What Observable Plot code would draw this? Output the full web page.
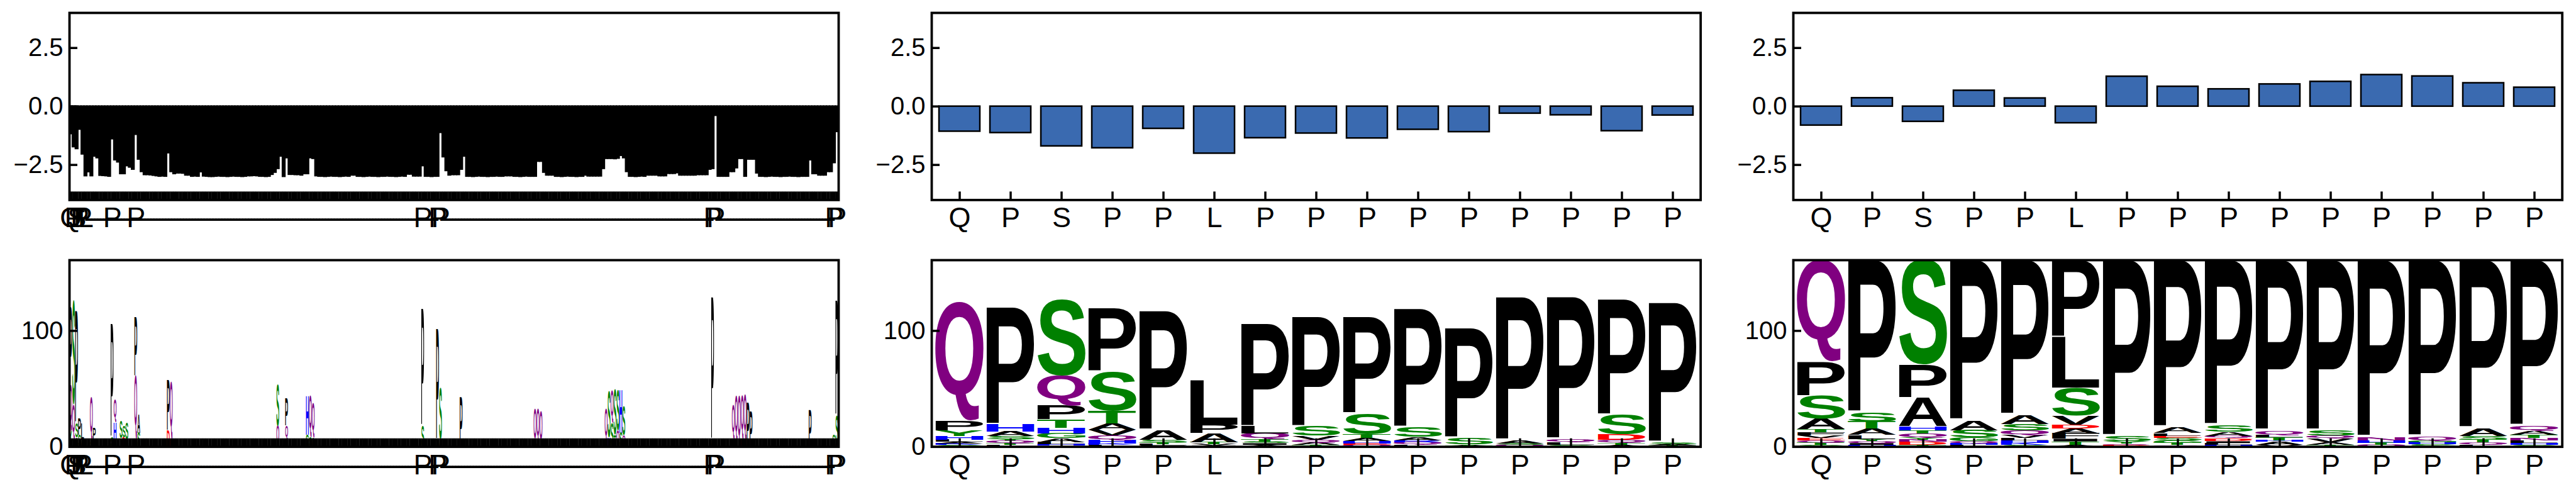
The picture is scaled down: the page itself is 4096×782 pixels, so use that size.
<!DOCTYPE html>
<html><head><meta charset="utf-8">
<script src="https://cdn.jsdelivr.net/npm/d3@7"></script>
<script src="https://cdn.jsdelivr.net/npm/@observablehq/plot@0.6"></script>
<style>
html,body{margin:0;padding:0;background:#fff;}
#root{position:relative;width:4096px;height:782px;overflow:hidden;background:#fff;}
</style></head><body><div id="root"></div><script>
// ---------------- data ----------------
const residues = ["Q","P","S","P","P","L","P","P","P","P","P","P","P","P","P"];
const N_ALL = 260;
const residuePos = [0,1,2,3,4,5,14,22,119,124,125,217,218,258,259];

const profileAll = [
-1.17,-1.73,-1.81,-0.98,-2.04,-2.97,-2.80,-2.97,-2.13,-2.20,-2.95,-2.96,-2.97,-2.99,-1.39,-2.29,-2.38,-2.88,-2.88,-2.54,
-2.60,-2.69,-1.20,-2.26,-2.79,-2.92,-2.92,-2.93,-2.95,-2.97,-2.99,-2.98,-2.99,-1.99,-2.79,-2.88,-2.85,-2.85,-2.86,-2.94,
-2.94,-2.99,-2.98,-2.99,-2.80,-2.98,-2.99,-3.00,-3.00,-2.99,-2.98,-2.99,-2.99,-3.00,-2.99,-2.98,-2.99,-2.99,-3.00,-2.99,
-2.97,-2.97,-2.96,-2.97,-2.99,-2.99,-3.00,-2.99,-2.91,-2.82,-2.66,-2.13,-3.00,-2.20,-2.91,-2.91,-2.92,-2.92,-2.94,-2.88,
-2.88,-2.20,-2.23,-2.97,-2.99,-2.99,-3.00,-2.99,-2.98,-2.99,-2.99,-3.00,-2.99,-2.98,-2.99,-2.94,-2.94,-2.99,-2.99,-3.00,
-2.99,-2.98,-2.99,-2.99,-3.00,-2.99,-2.99,-2.98,-2.99,-2.99,-3.00,-2.99,-2.98,-2.99,-2.90,-2.90,-2.98,-2.98,-2.98,-2.54,
-2.99,-2.99,-3.00,-2.99,-2.99,-1.12,-2.16,-2.75,-2.94,-2.92,-2.92,-2.92,-2.69,-2.13,-2.99,-2.99,-3.00,-2.99,-2.98,-2.99,
-2.99,-3.00,-2.99,-2.99,-2.98,-2.99,-2.99,-2.97,-2.97,-2.97,-2.99,-2.99,-3.00,-2.99,-2.98,-2.99,-2.99,-2.99,-2.35,-2.35,
-2.82,-2.94,-2.94,-2.94,-2.99,-2.99,-3.00,-2.99,-2.98,-2.99,-2.99,-3.00,-2.99,-2.99,-2.94,-2.98,-2.98,-2.98,-2.98,-2.98,
-2.66,-2.23,-2.23,-2.23,-2.24,-2.22,-2.10,-2.20,-2.79,-2.99,-2.99,-3.00,-2.99,-2.98,-2.99,-2.94,-2.94,-2.94,-2.94,-2.97,
-2.97,-2.97,-2.87,-2.87,-2.87,-2.84,-2.94,-2.94,-2.94,-2.94,-2.94,-2.94,-2.92,-2.92,-2.92,-2.92,-2.69,-2.66,-0.39,-2.99,
-2.99,-2.99,-2.99,-2.79,-2.79,-2.63,-2.23,-2.23,-2.99,-2.26,-2.26,-2.26,-2.85,-2.99,-2.99,-3.00,-2.99,-2.98,-2.99,-2.99,
-3.00,-2.99,-2.99,-2.98,-2.99,-2.99,-3.00,-2.99,-2.99,-2.99,-2.29,-2.88,-2.88,-2.94,-2.94,-2.94,-2.79,-2.79,-2.41,-1.08
];

const barsQuery = [-1.07,-1.13,-1.70,-1.78,-0.95,-2.01,-1.35,-1.15,-1.36,-0.99,-1.09,-0.30,-0.37,-1.05,-0.38];
const barsFull  = [-0.81,0.36,-0.65,0.68,0.35,-0.71,1.28,0.85,0.74,0.95,1.06,1.35,1.29,1.00,0.81];

// sequence-logo stacks, bottom -> top, "letter:height"
const logoAll = [
[0,"H:5,Y:8,Q:40,P:67"],[1,"T:6,Q:30,S:90"],[2,"A:8,S:12,P:97"],[3,"S:10,P:14"],[4,"A:6,L:14"],
[7,"S:4,Q:39"],[8,"T:6,P:10"],[14,"S:8,P:98"],[15,"S:6,H:15,Q:20"],[17,"T:7,S:15"],[18,"D:8,S:10"],
[19,"G:6,S:14"],[22,"S:6,Q:55,P:51"],[23,"S:12,A:16"],[33,"D:14,P:44"],[34,"E:6,Q:50"],[44,"A:3"],
[70,"Q:18,S:36"],[73,"S:6,Q:12,P:24"],[80,"S:10,H:34"],[81,"S:8,Q:36"],[82,"A:8,Q:30"],
[119,"S:18,P:101"],[124,"T:6,P:95"],[125,"A:6,S:44"],[132,"P:43"],[157,"Q:33"],[158,"L:3,Q:30"],
[159,"Q:31"],[181,"D:3,Q:30"],[182,"H:8,S:40"],[183,"S:20,Q:28"],[184,"T:10,S:39"],[185,"Q:14,S:35"],
[186,"S:12,H:37"],[187,"Q:10,S:25"],[217,"A:6,P:123"],[224,"S:6,Q:30"],[225,"D:4,Q:40"],[226,"Q:44"],
[227,"E:6,Q:38"],[228,"S:5,Q:40"],[229,"P:38"],[230,"P:30"],[250,"P:32"],[258,"S:10"],[259,"D:3,S:24,P:99"]
];
const logoQuery = [
"S:1.2,K:1.3,A:1.5,L:2.0,H:3.2,Y:4.5,P:8.3,Q:102.7",
"L:1.2,T:1.2,Q:2.6,Y:1.5,S:2.5,A:4.0,H:6.0,P:101.0",
"E:0.8,H:1.0,L:2.0,A:3.5,G:4.1,H:4.8,T:7.3,P:12.0,Q:26.0,S:65.5",
"L:1.2,K:1.3,H:3.1,Q:4.2,V:4.8,A:5.5,T:11.0,S:33.4,P:54.3",
"I:1.0,L:1.2,T:1.6,S:2.1,A:8.2,P:102.8",
"I:0.8,V:1.0,T:2.0,A:7.6,P:7.6,L:38.4",
"A:1.5,I:1.3,S:1.5,T:2.0,Q:5.1,L:6.2,P:88.3",
"T:1.2,A:2.0,Q:2.5,V:3.6,S:8.3,P:94.4",
"Q:1.5,E:1.0,H:2.0,A:2.8,T:3.4,S:17.9,P:83.4",
"L:1.5,Q:2.3,R:1.6,A:3.0,S:8.2,P:102.2",
"A:1.0,T:0.8,S:5.8,P:94.2",
"Q:1.3,S:1.2,A:2.7,P:123.8",
"S:1.5,L:1.9,Q:2.8,P:122.8",
"A:1.6,T:1.6,Q:2.6,D:4.5,S:16.9,P:99.8",
"T:1.0,A:1.2,S:1.2,P:120.6"
];
const logoFull = [
"S:1.6,T:1.8,Q:1.8,E:2.0,V:2.1,F:2.8,T:2.7,A:9.2,S:20.0,P:29.0,Q:88.0",
"H:1.5,I:1.5,Q:1.5,Y:2.1,L:3.4,A:5.5,T:6.2,S:7.6,P:131.7",
"T:1.2,D:2.8,N:1.9,Y:2.1,Q:3.4,T:2.7,H:3.5,A:24.7,P:28.2,S:90.5",
"L:1.5,H:1.5,Q:1.5,G:3.5,S:6.1,A:8.3,P:138.6",
"S:1.5,K:1.7,H:2.0,L:2.1,V:2.7,Q:4.1,S:5.5,A:7.6,P:133.8",
"A:1.5,T:3.0,I:2.1,F:4.8,A:4.1,D:3.5,V:7.5,S:24.5,L:44.0,P:66.0",
"D:1.2,Q:1.2,Y:2.1,S:4.2,P:152.3",
"Q:1.2,T:1.8,G:2.0,S:2.5,E:1.8,L:2.2,A:4.8,P:144.7",
"H:1.5,L:1.5,I:1.5,D:2.1,E:0.7,Q:2.0,A:3.5,S:5.5,P:142.7",
"V:1.5,A:2.5,H:1.5,T:2.5,L:2.0,Q:3.5,P:147.5",
"T:1.5,A:2.0,V:3.1,Q:2.7,S:4.2,P:147.5",
"Q:1.5,T:1.8,H:1.9,N:2.8,P:153.0",
"S:1.8,H:1.7,G:1.7,Q:3.2,P:152.6",
"L:1.5,Q:2.0,T:2.4,S:3.4,A:6.2,P:145.5",
"S:1.5,H:1.5,L:2.2,N:2.1,T:2.7,A:3.5,Q:4.1,P:143.4"
];

// ---------------- layout / style ----------------
const FONT = '"Liberation Sans", Arial, Helvetica, sans-serif';
const root = document.getElementById("root");
const COLS = [[110.06, 1333.08], [1480.74, 2703.42], [2851.08, 4073.76]];
const ROWS = [[20.0, 317.4], [412.6, 709.3]];
const ML = 100, MR = 12, MT = 12, MB = 72;
const FRAME_W = 3.8, TICK_W = 3.5, TICK_L = 13;
const BAR_FILL = "#3a6ab0";
const LOGO_MAX = 161;

const colorOf = ch => "GSTYC".includes(ch) ? "#008000" : "QN".includes(ch) ? "#800080"
  : "KRH".includes(ch) ? "#0000ff" : "DE".includes(ch) ? "#ff0000" : "#000000";

const labelsAll = d3.range(N_ALL).map(i => { const j = residuePos.indexOf(i); return j >= 0 ? residues[j] : "-"; });

function xAxes(n, labels, tickW) {
  const t = d3.range(n);
  return [
    Plot.axisX({ticks: t, tickSize: 0, tickPadding: 11.5, fontSize: 45, tickFormat: i => labels[i], label: null}),
    Plot.axisX({ticks: t, tickSize: TICK_L, dy: -TICK_L, strokeWidth: tickW, tickFormat: () => "", label: null})
  ];
}
function yAxes(ticks, fmt) {
  return [
    Plot.axisY({ticks, tickSize: 0, tickPadding: 10, fontSize: 40, tickFormat: fmt, label: null}),
    Plot.axisY({ticks, tickSize: TICK_L, dx: TICK_L, strokeWidth: TICK_W, tickFormat: () => "", label: null})
  ];
}
function makePlot(col, row, n, yDomain, marks) {
  const [x0, x1] = COLS[col], [y0, y1] = ROWS[row];
  const svg = Plot.plot({
    width: x1 - x0 + ML + MR, height: y1 - y0 + MT + MB,
    marginLeft: ML, marginRight: MR, marginTop: MT, marginBottom: MB,
    x: {type: "band", domain: d3.range(n), paddingInner: 0.2, paddingOuter: 0.1, label: null},
    y: {domain: yDomain, label: null},
    color: {type: "identity"},
    style: {fontFamily: FONT, background: "transparent", overflow: "visible", maxWidth: "none"},
    marks
  });
  svg.style.position = "absolute";
  svg.style.left = (x0 - ML) + "px";
  svg.style.top = (y0 - MT) + "px";
  root.appendChild(svg);
  return svg;
}
function stepOf(col, n) { return (COLS[col][1] - COLS[col][0]) / n; }

const fmt1 = d3.format(".1f");

function barPanel(col, values, labels, fill, strokeW, tickW) {
  const n = values.length;
  makePlot(col, 0, n, [-4, 4], [
    Plot.barY(values.map((v, i) => ({i, v})), {x: "i", y: "v", fill, stroke: "black", strokeWidth: strokeW}),
    ...xAxes(n, labels, tickW),
    Plot.frame({stroke: "black", strokeWidth: FRAME_W}),
    ...yAxes([-2.5, 0, 2.5], fmt1)
  ]);
}

// ---------------- logos ----------------
function stackRows(cols) {
  const rows = [];
  for (const [k, s] of cols) {
    let y = 0;
    for (const part of s.split(",")) {
      const [ch, h] = part.split(":");
      rows.push({k, ch, y1: y, y2: y + (+h)});
      y += +h;
    }
  }
  return rows;
}
const meas = document.createElement("canvas").getContext("2d");
meas.font = 'bold 100px "Liberation Sans", Arial, sans-serif';
const inkCache = {};
function ink(ch) {
  if (!inkCache[ch]) {
    const m = meas.measureText(ch);
    inkCache[ch] = {L: m.actualBoundingBoxLeft, R: m.actualBoundingBoxRight, A: m.actualBoundingBoxAscent, D: m.actualBoundingBoxDescent};
  }
  return inkCache[ch];
}
function stretchLetters(svg, rows) {
  const xs = svg.scale("x"), ys = svg.scale("y");
  const bw = xs.bandwidth, step = xs.step || bw / 0.8;
  const group = svg.querySelector('g[aria-label="text"]');
  if (!group) return;
  group.removeAttribute("transform");
  const texts = group.querySelectorAll("text");
  texts.forEach((el, i) => {
    const d = rows[i];
    if (!d) return;
    const cx = xs.apply(d.k) + bw / 2;
    const w = step * 0.95;
    const yt = ys.apply(d.y2), yb = ys.apply(d.y1);
    const h = yb - yt;
    if (!(h > 0.05)) { el.remove(); return; }
    const g = ink(d.ch);
    const sx = w / (g.L + g.R), sy = h / (g.A + g.D);
    ["x","y","dx","dy"].forEach(a => el.removeAttribute(a));
    el.setAttribute("text-anchor", "start");
    el.setAttribute("font-size", "100");
    el.setAttribute("font-weight", "bold");
    el.setAttribute("font-family", FONT);
    el.setAttribute("transform", `translate(${cx - w / 2},${yt}) scale(${sx},${sy}) translate(${g.L},${g.A})`);
  });
}
function logoPanel(col, n, rows, labels, tickW) {
  const svg = makePlot(col, 1, n, [0, LOGO_MAX], [
    Plot.text(rows, {x: "k", y: "y1", text: "ch", fill: d => colorOf(d.ch), fontSize: 100, fontWeight: "bold"}),
    ...xAxes(n, labels, tickW),
    Plot.frame({stroke: "black", strokeWidth: FRAME_W}),
    ...yAxes([0, 100], d3.format("d"))
  ]);
  stretchLetters(svg, rows);
}

// ---------------- draw ----------------
barPanel(0, profileAll, labelsAll, "black", 2.5, stepOf(0, N_ALL) + 0.3);
barPanel(1, barsQuery, residues, BAR_FILL, 2.5, TICK_W);
barPanel(2, barsFull, residues, BAR_FILL, 2.5, TICK_W);

logoPanel(0, N_ALL, stackRows(logoAll), labelsAll, stepOf(0, N_ALL) + 0.3);
logoPanel(1, 15, stackRows(logoQuery.map((s, i) => [i, s])), residues, TICK_W);
logoPanel(2, 15, stackRows(logoFull.map((s, i) => [i, s])), residues, TICK_W);
</script></body></html>
